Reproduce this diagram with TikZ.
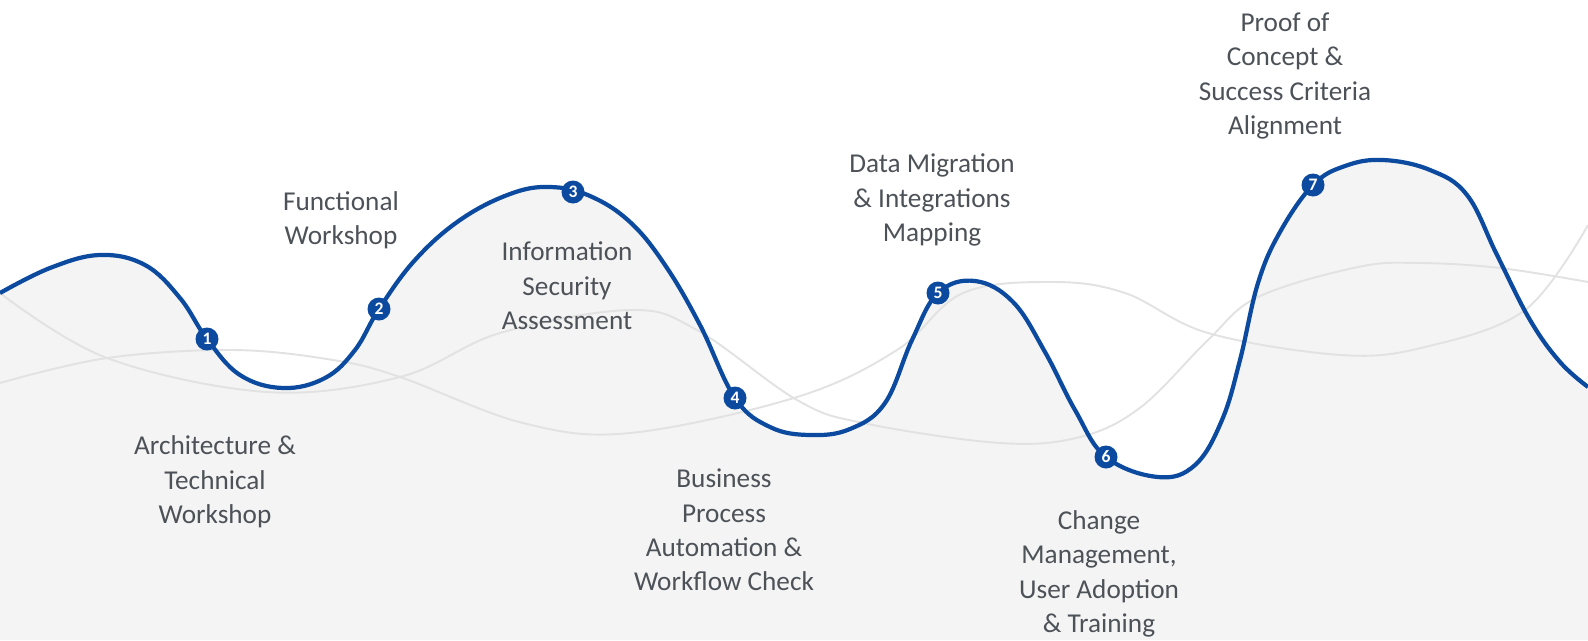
\documentclass[tikz,border=0pt]{standalone}
\usepackage{fontspec}
\setmainfont{Carlito}

\definecolor{waveblue}{HTML}{0B4A9E}
\definecolor{wavefill}{HTML}{F4F4F4}
\definecolor{waveline}{HTML}{E2E2E2}
\definecolor{stagegray}{HTML}{4D5258}

% main wave, in pixels of the picture
\def\mainwave{plot [smooth, tension=0.65] coordinates {
    (0,293) (50,268) (100,255) (145,265) (180,298) (207,339) (240,375)
    (283,388) (325,378) (355,350) (379,309) (415,260) (460,220) (510,194)
    (550,187) (590,196) (630,222) (665,265) (700,325) (735,398) (770,427)
    (810,435) (850,429) (885,403) (912,340) (938,293) (975,281) (1013,302)
    (1045,352) (1075,410) (1106,457) (1158,477) (1195,465) (1222,420)
    (1240,360) (1258,283) (1280,232) (1313,185) (1345,166) (1383,160)
    (1430,170) (1467,195) (1497,255) (1530,320) (1560,362) (1588,387)}}

\begin{document}
\begin{tikzpicture}[x=0.02cm, y=-0.02cm,
    stagedot/.style={circle, fill=waveblue, text=white, inner sep=0pt,
        minimum size=0.46cm, font=\fontsize{10}{10}\selectfont\bfseries},
    stagetext/.style={align=center, text=stagegray,
        font=\fontsize{15.5}{19.6}\selectfont}]
    \useasboundingbox (0,0) rectangle (1588,640);
    \clip (0,0) rectangle (1588,640);

    % background
    \fill [wavefill] \mainwave -- (1588,640) -- (0,640) -- cycle;

    % thin waves behind
    \draw [waveline, line width=1.1pt] plot [smooth, tension=0.6] coordinates {
        (0,293) (107,358) (267,392) (400,377) (500,333) (630,310) (697,330)
        (797,400) (863,423) (1000,443) (1080,437) (1141,407) (1208,340)
        (1258,297) (1358,267) (1420,263) (1500,268) (1588,282)};
    \draw [waveline, line width=1.1pt] plot [smooth, tension=0.6] coordinates {
        (0,383) (107,358) (233,350) (333,360) (400,377) (523,423) (630,433)
        (797,397) (897,350) (963,293) (1053,282) (1125,293) (1208,333)
        (1341,355) (1425,347) (1525,310) (1588,225)};

    % main wave
    \draw [waveblue, line width=2.4pt] \mainwave;

    \node [stagedot] (m1) at (207,339) {1};
    \node [stagedot] (m2) at (379,309) {2};
    \node [stagedot] (m3) at (573,192) {3};
    \node [stagedot] (m4) at (735,398) {4};
    \node [stagedot] (m5) at (938,293) {5};
    \node [stagedot] (m6) at (1106,457) {6};
    \node [stagedot] (m7) at (1313,185) {7};

    \node [stagetext] (t1) at (215,482) {Architecture \&\\Technical\\Workshop};
    \node [stagetext] (t2) at (341,220) {Functional\\Workshop};
    \node [stagetext] (t3) at (567,286) {Information\\Security\\Assessment};
    \node [stagetext] (t4) at (724,530) {Business\\Process\\Automation \&\\Workflow Check};
    \node [stagetext] (t5) at (932,200) {Data Migration\\\& Integrations\\Mapping};
    \node [stagetext] (t6) at (1099,574) {Change\\Management,\\User Adoption\\\& Training};
    \node [stagetext] (t7) at (1285,76) {Proof of\\Concept \&\\Success Criteria\\Alignment};
\end{tikzpicture}
\end{document}
